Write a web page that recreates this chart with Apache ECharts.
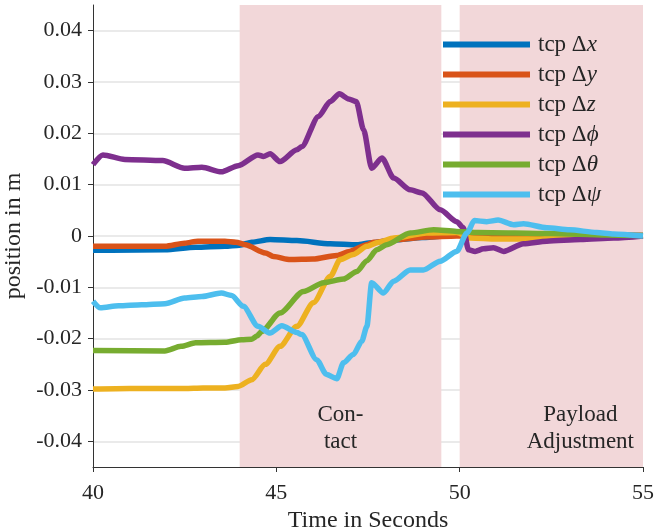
<!DOCTYPE html>
<html>
<head>
<meta charset="utf-8">
<script src="https://cdn.jsdelivr.net/npm/echarts@6/dist/echarts.min.js"></script>
<style>html,body{margin:0;padding:0;background:#fff}#c{width:655px;height:529px}</style>
</head>
<body>
<div id="c"></div>
<script>
// ---- data ----
const seriesNames = ['tcp Δx', 'tcp Δy', 'tcp Δz', 'tcp Δϕ', 'tcp Δθ', 'tcp Δψ'];
const seriesColors = ['#0072BD', '#D95319', '#EDB120', '#7E2F8E', '#77AC30', '#4DBEEE'];
const yTicks = [-0.04, -0.03, -0.02, -0.01, 0, 0.01, 0.02, 0.03, 0.04];
const xTicks = [40, 45, 50, 55];
const phases = [
  { name: 'Con-\ntact', from: 44, to: 49.5 },
  { name: 'Payload\nAdjustment', from: 50, to: 55 }
];
const dx = [[40,-0.0028],[40.5,-0.0028],[41.96,-0.0027],[42.8,-0.0022],[43.6,-0.002],[44.0,-0.0018],[44.33,-0.0012],[44.83,-0.0007],[45.56,-0.0009],[46.47,-0.0015],[47.2,-0.0017],[47.6,-0.0013],[48.2,-0.0008],[49.0,-0.0003],[49.9,0.0002],[50.5,0.0004],[52,0.0003],[55,0.0001]];
const dy = [[40,-0.002],[41.96,-0.002],[42.5,-0.0014],[42.86,-0.001],[43.6,-0.001],[43.9,-0.0012],[44.15,-0.0017],[44.7,-0.0033],[44.92,-0.004],[45.38,-0.0046],[46.0,-0.0045],[46.65,-0.0038],[47.0,-0.003],[47.47,-0.0017],[47.65,-0.0012],[48.3,-0.0007],[49.1,-0.0002],[49.92,0.0],[51,0.0002],[55,0.0001]];
const dz = [[40,-0.0298],[41,-0.0297],[42.5,-0.0297],[43.0,-0.0296],[43.6,-0.0296],[43.96,-0.0293],[44.33,-0.028],[44.7,-0.025],[45.1,-0.0215],[45.56,-0.0176],[46.01,-0.013],[46.47,-0.0079],[46.74,-0.0046],[47.1,-0.0036],[47.47,-0.002],[47.8,-0.0012],[48.2,-0.0004],[49.1,0.0006],[49.92,0.0007],[50.3,-0.0004],[51,-0.0006],[52,-0.0006],[53,-0.0004],[54,-0.0002],[55,0]];
const dphi = [[40,0.0139],[40.27,0.0158],[40.87,0.0149],[41.9,0.0147],[42.5,0.0132],[42.97,0.0134],[43.5,0.0125],[43.96,0.0137],[44.5,0.0158],[44.65,0.0155],[44.83,0.016],[45.1,0.0145],[45.56,0.0168],[45.69,0.0174],[46.15,0.0233],[46.47,0.0262],[46.72,0.0277],[46.97,0.0267],[47.18,0.0262],[47.38,0.0207],[47.6,0.0132],[47.88,0.0152],[48.2,0.0113],[48.65,0.009],[48.97,0.0084],[49.47,0.0051],[49.92,0.0028],[50.1,0.0016],[50.24,-0.0027],[50.42,-0.003],[50.65,-0.0025],[50.92,-0.0023],[51.2,-0.003],[51.74,-0.0015],[52.38,-0.001],[53.3,-0.0007],[54.2,-0.0004],[55,0]];
const dtheta = [[40,-0.0223],[41.96,-0.0224],[42.4,-0.0215],[42.8,-0.0208],[43.6,-0.0207],[44.05,-0.0202],[44.33,-0.0201],[44.47,-0.0195],[44.6,-0.0186],[45.1,-0.015],[45.74,-0.0108],[46.29,-0.0091],[46.83,-0.0084],[47.2,-0.0069],[47.47,-0.0048],[47.74,-0.0027],[48.01,-0.0017],[48.65,0.0006],[49.29,0.0012],[49.92,0.0009],[50.5,0.0007],[52.5,0.0005],[54,0.0002],[55,0.0001]];
const dpsi = [[40,-0.0127],[40.2,-0.014],[40.7,-0.0136],[41.33,-0.0134],[41.96,-0.0132],[42.5,-0.0121],[42.97,-0.0118],[43.5,-0.0111],[43.78,-0.0116],[44.1,-0.0137],[44.5,-0.0176],[44.83,-0.0189],[45.15,-0.0175],[45.56,-0.0188],[45.69,-0.0192],[46.1,-0.0241],[46.37,-0.027],[46.65,-0.0278],[46.83,-0.0247],[47.1,-0.0231],[47.33,-0.0205],[47.47,-0.0176],[47.6,-0.0091],[47.92,-0.0111],[48.2,-0.0088],[48.65,-0.0066],[49.01,-0.0066],[49.47,-0.0049],[49.92,-0.003],[50.2,0.0006],[50.4,0.003],[50.74,0.0028],[51.05,0.0031],[51.47,0.0022],[51.74,0.0024],[52.38,0.0016],[53.0,0.0012],[53.74,0.0007],[54.2,0.0004],[55,0]];
const seriesData = [dx, dy, dz, dphi, dtheta, dpsi];

// ---- chart ----
const FONT = "'Liberation Serif', 'DejaVu Serif', serif";
const TXT = '#262626';
const chart = echarts.init(document.getElementById('c'), null, { renderer: 'canvas' });

const lineSeries = seriesNames.map((n, i) => ({
  name: n,
  type: 'line',
  data: seriesData[i],
  showSymbol: false,
  symbol: 'none',
  smooth: 0.25,
  smoothMonotone: 'x',
  z: 3,
  lineStyle: { width: 5.5, color: seriesColors[i] },
  itemStyle: { color: seriesColors[i] }
}));

const areaSeries = {
  type: 'line',
  data: [],
  z: 1,
  silent: true,
  markArea: {
    silent: true,
    itemStyle: { color: '#f2d7d9' },
    label: {
      show: true,
      position: 'insideBottom',
      distance: 12,
      fontFamily: FONT,
      fontSize: 23,
      lineHeight: 27,
      color: TXT,
      align: 'center'
    },
    data: phases.map((p, i) => [
      { name: p.name, xAxis: p.from, label: i === 1 ? { offset: [29, 0] } : {} },
      { xAxis: p.to }
    ])
  }
};

chart.setOption({
  animation: false,
  backgroundColor: '#fff',
  grid: { left: 93, right: 12, top: 5, bottom: 62, containLabel: false, outerBoundsMode: 'none' },
  legend: {
    orient: 'vertical',
    left: 443,
    top: 33,
    padding: 0,
    itemWidth: 87,
    itemHeight: 6,
    itemGap: 7,
    icon: 'rect',
    data: seriesNames,
    formatter: function (name) {
      return '{a|' + name.slice(0, -1) + '}{b|' + name.slice(-1) + '}';
    },
    textStyle: {
      padding: [0, 0, 0, 3],
      rich: {
        a: { fontFamily: FONT, fontSize: 23, lineHeight: 22, color: TXT },
        b: { fontFamily: FONT, fontSize: 23, lineHeight: 22, color: TXT, fontStyle: 'italic' }
      }
    }
  },
  xAxis: {
    type: 'value',
    min: 40,
    max: 55,
    interval: 5,
    name: 'Time in Seconds',
    nameLocation: 'middle',
    nameGap: 37,
    nameTextStyle: { fontFamily: FONT, fontSize: 24, color: TXT },
    axisLine: { show: true, onZero: false, lineStyle: { color: '#333', width: 1 } },
    axisTick: { show: true, inside: false, length: 5, lineStyle: { color: '#333' } },
    axisLabel: { fontFamily: FONT, fontSize: 22, color: TXT, margin: 15 },
    splitLine: { show: false }
  },
  yAxis: {
    type: 'value',
    min: -0.045,
    max: 0.045,
    name: 'position in m',
    nameLocation: 'middle',
    nameGap: 63,
    nameTextStyle: { fontFamily: FONT, fontSize: 24, color: TXT },
    axisLine: { show: true, onZero: false, lineStyle: { color: '#333', width: 1 } },
    axisTick: { show: true, inside: false, length: 5, customValues: yTicks, lineStyle: { color: '#333' } },
    axisLabel: {
      fontFamily: FONT, fontSize: 22, color: TXT, margin: 11,
      customValues: yTicks,
      formatter: v => (Math.abs(v) < 1e-9 ? '0' : v.toFixed(2))
    },
    splitLine: { show: true, lineStyle: { color: '#e3e3e3', width: 1.5 } }
  },
  series: [areaSeries].concat(lineSeries)
});
</script>
</body>
</html>
